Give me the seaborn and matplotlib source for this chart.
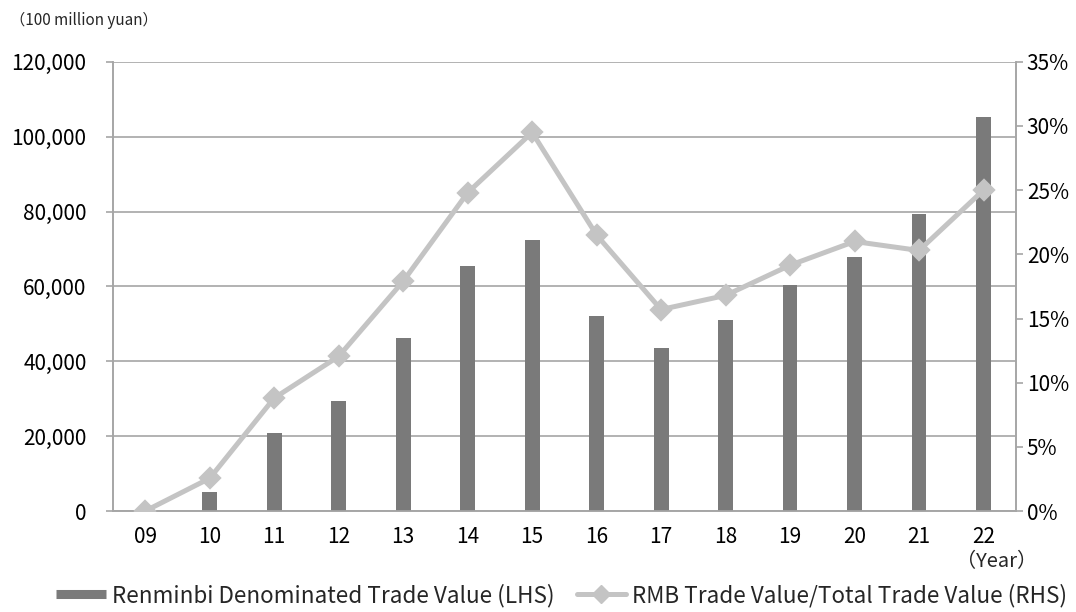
import matplotlib
matplotlib.use("Agg")
import matplotlib.pyplot as plt
import seaborn as sns
import pandas as pd
import numpy as np
from matplotlib.ticker import FuncFormatter, FixedLocator
from matplotlib.lines import Line2D

years = ["09", "10", "11", "12", "13", "14", "15", "16", "17", "18", "19", "20", "21", "22"]
rmb_trade_value = [0, 5000, 20800, 29300, 46300, 65500, 72400, 52200, 43500, 51100, 60300, 67800, 79300, 105200]
rmb_share = [0.0, 2.55, 8.8, 12.05, 17.9, 24.8, 29.5, 21.5, 15.7, 16.8, 19.15, 21.0, 20.3, 25.0]

bar_label = "Renminbi Denominated Trade Value (LHS)"
line_label = "RMB Trade Value/Total Trade Value (RHS)"
unit_label = "（100 million yuan）"
year_label = "（Year）"

sns.set_style("white")
plt.rcParams['font.family'] = ['Noto Sans CJK JP', 'DejaVu Sans']

df = pd.DataFrame({"year": years, "value": rmb_trade_value, "share": rmb_share})

fig = plt.figure(figsize=(10.76, 6.12), dpi=100)
ax = fig.add_axes([0.105, 0.165, 0.839, 0.734])
ax2 = ax.twinx()

grid_c = "#a6a6a6"
bar_c = "#7a7a7a"
line_c = "#c4c4c4"

sns.barplot(data=df, x="year", y="value", ax=ax, color=bar_c, width=0.23,
            saturation=1, edgecolor="none", zorder=3)
sns.pointplot(data=df, x="year", y="share", ax=ax2, color=line_c, markers="D",
              linestyles="-", lw=3.6, markersize=9.5, zorder=4)

ax.set_xlim(-0.5, len(years) - 0.5)
ax.set_ylim(0, 120000)
ax.set_yticks(np.arange(0, 120001, 20000))
ax.yaxis.set_major_formatter(FuncFormatter(lambda v, p: f"{int(v):,}"))
ax2.set_ylim(0, 35)
ax2.set_yticks(np.arange(0, 36, 5))
ax2.yaxis.set_major_formatter(FuncFormatter(lambda v, p: f"{int(round(v))}%"))

ax.grid(axis="y", color=grid_c, linewidth=1.2, zorder=0)
ax.set_axisbelow(True)
ax.set_xlabel("")
ax.set_ylabel("")
ax2.set_ylabel("")
ax2.set_xlabel("")

for a in (ax, ax2):
    for s in a.spines.values():
        s.set_color(grid_c)
        s.set_linewidth(1.2)
    a.spines["top"].set_visible(False)

ax.tick_params(axis="y", which="major", length=5, color=grid_c, width=1.2, pad=14, labelsize=15, labelcolor="black")
ax2.tick_params(axis="y", which="major", length=5, color=grid_c, width=1.2, pad=3, labelsize=15, labelcolor="black")
ax.xaxis.set_minor_locator(FixedLocator(np.arange(-0.5, len(years), 1.0)))
ax.tick_params(axis="x", which="major", length=0, pad=11, labelsize=15, labelcolor="black")
ax.tick_params(axis="x", which="minor", length=5, color=grid_c, width=1.2)
ax.yaxis.set_ticks_position("left")

fig.text(0.009, 0.967, unit_label, fontsize=11, ha="left", va="center")
fig.text(0.9266, 0.083, year_label, fontsize=14.5, ha="center", va="center")

handles = [Line2D([], [], color=bar_c, lw=6.5, solid_capstyle="butt"),
           Line2D([], [], color=line_c, lw=3.6, marker="D", markersize=9.5)]
fig.legend(handles, [bar_label, line_label], loc="center", bbox_to_anchor=(0.522, 0.027),
           ncol=2, frameon=False, fontsize=16.2, handlelength=2.2, handletextpad=0.25,
           columnspacing=1.0, borderaxespad=0)

fig.savefig("out.png", dpi=100)
